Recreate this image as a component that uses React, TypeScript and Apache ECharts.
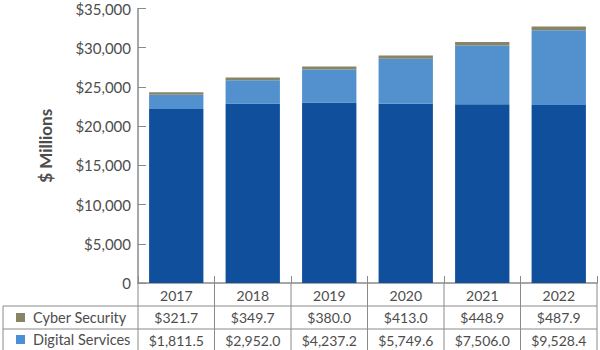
import React, { useEffect, useRef } from "react";
import * as echarts from "echarts";

const years = ["2017", "2018", "2019", "2020", "2021", "2022"];
const baseValues = [22200, 22900, 23000, 22850, 22780, 22700];
const digitalServices = [1811.5, 2952.0, 4237.2, 5749.6, 7506.0, 9528.4];
const cyberSecurity = [321.7, 349.7, 380.0, 413.0, 448.9, 487.9];
const rowNames = ["Cyber Security", "Digital Services"];

const COLORS = { base: "#0f4f9c", digital: "#5290ce", cyber: "#888466", legendDigital: "#4a90d8" };
const TEXT = "#4d4d4d";
const LINE = "#8a8a8a";
const FONT = "Lato, 'Open Sans', sans-serif";

const fmtMoney = (v: number) =>
  "$" + v.toLocaleString("en-US", { minimumFractionDigits: 1, maximumFractionDigits: 1 });

export default function App() {
  const ref = useRef<HTMLDivElement>(null);
  useEffect(() => {
    if (!ref.current) return;
    const chart = echarts.init(ref.current, null, { renderer: "svg" });
    const W = 600;
    const gridLeft = 138;
    const gridRight = 3;
    const gridTop = 8.5;
    const axisY = 283;
    const rowY = [283, 306, 329, 350];
    const cellW = (W - gridLeft - gridRight) / years.length;

    const graphics: any[] = [];
    [rowY[1], rowY[2]].forEach((y) =>
      graphics.push({
        type: "line",
        shape: { x1: 3, y1: y, x2: W - gridRight, y2: y },
        style: { stroke: LINE, lineWidth: 1 },
        silent: true,
      })
    );
    for (let i = 0; i <= years.length; i++) {
      const x = gridLeft + i * cellW;
      graphics.push({
        type: "line",
        shape: { x1: x, y1: rowY[0], x2: x, y2: rowY[3] },
        style: { stroke: LINE, lineWidth: 1 },
        silent: true,
      });
    }
    graphics.push({
      type: "line",
      shape: { x1: 3, y1: rowY[1], x2: 3, y2: rowY[3] },
      style: { stroke: LINE, lineWidth: 1 },
      silent: true,
    });
    const legendColors = [COLORS.cyber, COLORS.legendDigital];
    rowNames.forEach((name, i) => {
      const cy = (rowY[i + 1] + rowY[i + 2]) / 2;
      graphics.push({
        type: "rect",
        shape: { x: 16, y: cy - 4.5, width: 9, height: 9 },
        style: { fill: legendColors[i] },
        silent: true,
      });
      graphics.push({
        type: "text",
        x: 33,
        y: cy,
        style: {
          text: name,
          fill: TEXT,
          font: `14.5px ${FONT}`,
          verticalAlign: "middle",
          align: "left",
        },
        silent: true,
      });
    });

    const labelStyle = { color: TEXT, fontSize: 14, fontFamily: FONT, interval: 0, hideOverlap: false };

    chart.setOption({
      animation: false,
      grid: { left: gridLeft, right: gridRight, top: gridTop, bottom: 350 - axisY, containLabel: false },
      xAxis: [
        {
          type: "category",
          data: years,
          axisLine: { lineStyle: { color: LINE, width: 1.5 } },
          axisTick: { show: true, inside: true, length: 7, lineStyle: { color: LINE } },
          axisLabel: { ...labelStyle, margin: 5 },
        },
        {
          type: "category",
          data: years,
          position: "bottom",
          offset: rowY[1] - axisY,
          axisLine: { show: false },
          axisTick: { show: false },
          axisLabel: {
            ...labelStyle,
            margin: 4,
            formatter: (_v: string, i: number) => fmtMoney(cyberSecurity[i]),
          },
        },
        {
          type: "category",
          data: years,
          position: "bottom",
          offset: rowY[2] - axisY,
          axisLine: { show: false },
          axisTick: { show: false },
          axisLabel: {
            ...labelStyle,
            margin: 4,
            formatter: (_v: string, i: number) => fmtMoney(digitalServices[i]),
          },
        },
      ],
      yAxis: {
        type: "value",
        min: 0,
        max: 35000,
        interval: 5000,
        name: "$ Millions",
        nameLocation: "middle",
        nameGap: 84,
        nameTextStyle: { color: TEXT, fontSize: 17, fontWeight: "bold", fontFamily: FONT },
        axisLine: { show: true, lineStyle: { color: LINE, width: 1.5 } },
        axisTick: { show: true, inside: true, length: 8, lineStyle: { color: LINE } },
        splitLine: { show: false },
        axisLabel: {
          color: TEXT,
          fontSize: 15,
          fontFamily: FONT,
          margin: 7,
          formatter: (v: number) => (v === 0 ? "0" : "$" + v.toLocaleString("en-US")),
        },
      },
      series: [
        {
          name: "Base",
          type: "bar",
          stack: "total",
          data: baseValues,
          barCategoryGap: "29%",
          itemStyle: { color: COLORS.base },
        },
        {
          name: "Digital Services",
          type: "bar",
          stack: "total",
          data: digitalServices,
          itemStyle: { color: COLORS.digital },
        },
        {
          name: "Cyber Security",
          type: "bar",
          stack: "total",
          data: cyberSecurity,
          itemStyle: { color: COLORS.cyber },
        },
      ],
      graphic: graphics,
    });
    return () => chart.dispose();
  }, []);
  return (
    <div
      ref={ref}
      style={{ position: "absolute", left: 0, top: 0, width: 600, height: 350, background: "#fff" }}
    />
  );
}
